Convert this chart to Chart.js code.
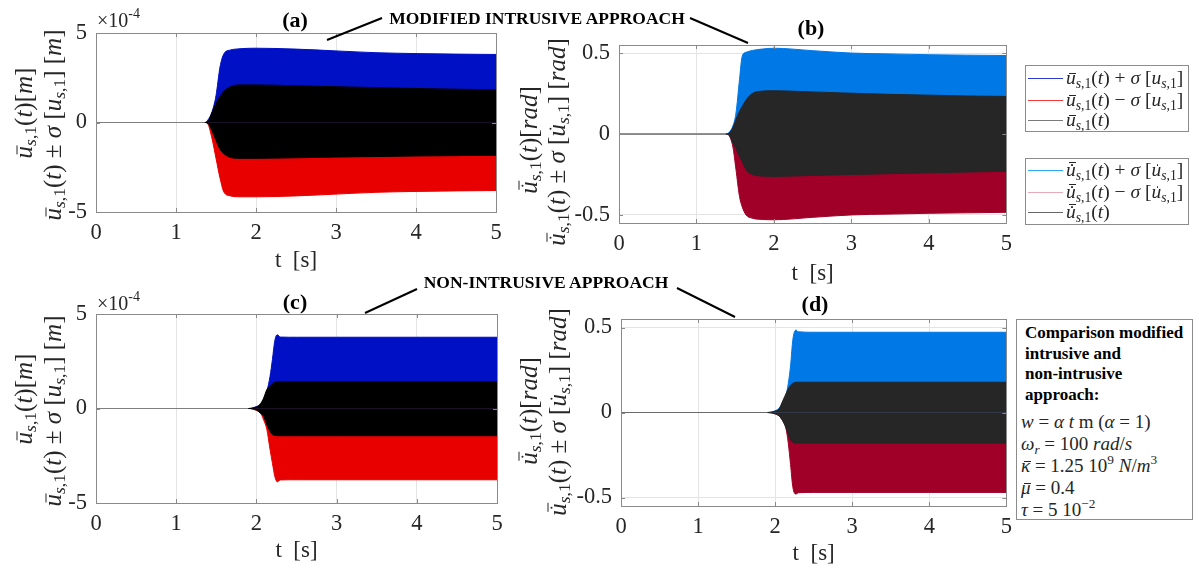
<!DOCTYPE html>
<html>
<head>
<meta charset="utf-8">
<script src="https://cdn.jsdelivr.net/npm/chart.js@4.4.1/dist/chart.umd.min.js"></script>
<style>
  html, body { margin: 0; padding: 0; background: #fff; }
  #fig { position: relative; width: 1199px; height: 569px; overflow: hidden;
         font-family: 'Liberation Serif', 'Times New Roman', serif; color: #262626; }
  canvas { position: absolute; }
  svg { position: absolute; left: 0; top: 0; }
  .t { position: absolute; white-space: nowrap; }
  .ylab { position: absolute; white-space: nowrap; font-size: 25px; line-height: 25px;
          transform: translate(-50%, -50%) rotate(-90deg); }
  sub { font-size: 70%; line-height: 0; vertical-align: -0.28em; }
  sup { font-size: 70%; line-height: 0; vertical-align: 0.6em; }
  /* accents drawn over italic letters */
  .acc { position: relative; display: inline-block; line-height: 1; }
  .acc.bar::after { content: ''; position: absolute; left: 0.14em; right: -0.02em; top: 0.25em;
                    border-top: 0.06em solid currentColor; }
  .acc.dot::before { content: ''; position: absolute; left: 0.27em; top: 0.23em; width: 0.09em; height: 0.09em;
                     border-radius: 50%; background: currentColor; }
  .acc.dbar::after { content: ''; position: absolute; left: 0.14em; right: -0.02em; top: 0.1em;
                     border-top: 0.06em solid currentColor; }
  .ptitle { font-weight: bold; font-size: 22px; color: #000; transform: translate(-50%, -50%); }
  .note { font-weight: bold; font-size: 17.5px; color: #000; transform: translate(-50%, -50%); }
  .box { position: absolute; border: 1px solid #8c8c8c; background: #fff; box-sizing: border-box; }
  .lgline { position: absolute; width: 35px; height: 0; }
  .lg { font-size: 19.5px; transform: translateY(-50%); color: #262626; }
  .exp { font-size: 20px; transform: translateY(-50%); }
  .params { position: absolute; left: 1016px; top: 319px; width: 177px; height: 201px;
            border: 1px solid #8c8c8c; box-sizing: border-box; background: #fff;
            padding: 3px 0 0 8px; color: #000; }
  .params .b { font-weight: bold; font-size: 17px; line-height: 20.5px; }
  .params .m { font-size: 19px; line-height: 22px; margin-left: -4px; color: #262626; }
  .params .gap { height: 6px; }
</style>
</head>
<body>
<div id="fig">
  <canvas id="pa"></canvas>
  <canvas id="pb"></canvas>
  <canvas id="pc"></canvas>
  <canvas id="pd"></canvas>

  <!-- axis labels: displacement -->
  <div class="ylab" style="left:23px;top:113px"><span class="acc bar"><i>u</i></span><sub><i>s</i>,1</sub>(<i>t</i>)[<i>m</i>]</div>
  <div class="ylab" style="left:52px;top:125px"><span class="acc bar"><i>u</i></span><sub><i>s</i>,1</sub>(<i>t</i>) ± <i>σ</i> [<i>u</i><sub><i>s</i>,1</sub>] [<i>m</i>]</div>
  <div class="ylab" style="left:23px;top:399px"><span class="acc bar"><i>u</i></span><sub><i>s</i>,1</sub>(<i>t</i>)[<i>m</i>]</div>
  <div class="ylab" style="left:52px;top:411px"><span class="acc bar"><i>u</i></span><sub><i>s</i>,1</sub>(<i>t</i>) ± <i>σ</i> [<i>u</i><sub><i>s</i>,1</sub>] [<i>m</i>]</div>
  <!-- axis labels: rotation -->
  <div class="ylab" style="left:528px;top:140px"><span class="acc dot dbar"><i>u</i></span><sub><i>s</i>,1</sub>(<i>t</i>)[<i>rad</i>]</div>
  <div class="ylab" style="left:556px;top:142px"><span class="acc dot dbar"><i>u</i></span><sub><i>s</i>,1</sub>(<i>t</i>) ± <i>σ</i> [<span class="acc dot"><i>u</i></span><sub><i>s</i>,1</sub>] [<i>rad</i>]</div>
  <div class="ylab" style="left:528px;top:411px"><span class="acc dot dbar"><i>u</i></span><sub><i>s</i>,1</sub>(<i>t</i>)[<i>rad</i>]</div>
  <div class="ylab" style="left:557px;top:412px"><span class="acc dot dbar"><i>u</i></span><sub><i>s</i>,1</sub>(<i>t</i>) ± <i>σ</i> [<span class="acc dot"><i>u</i></span><sub><i>s</i>,1</sub>] [<i>rad</i>]</div>

  <!-- exponent markers -->
  <div class="t exp" style="left:97px;top:20px">×10<sup>-4</sup></div>
  <div class="t exp" style="left:97px;top:303px">×10<sup>-4</sup></div>

  <!-- panel titles -->
  <div class="t ptitle" style="left:295px;top:20px">(a)</div>
  <div class="t ptitle" style="left:811px;top:28px">(b)</div>
  <div class="t ptitle" style="left:295px;top:302px">(c)</div>
  <div class="t ptitle" style="left:815px;top:304px">(d)</div>

  <!-- approach callouts -->
  <svg width="1199" height="569">
    <g stroke="#000" stroke-width="2" fill="none">
      <line x1="382" y1="18" x2="327" y2="40"/>
      <line x1="690" y1="18" x2="748" y2="43"/>
      <line x1="417" y1="289" x2="365" y2="313"/>
      <line x1="677" y1="288" x2="735" y2="317"/>
    </g>
  </svg>
  <div class="t note" style="left:537px;top:18px">MODIFIED INTRUSIVE APPROACH</div>
  <div class="t note" style="left:546px;top:282px">NON-INTRUSIVE APPROACH</div>

  <!-- legend: displacement -->
  <div class="box" style="left:1025px;top:65px;width:164px;height:67px"></div>
  <div class="lgline" style="left:1028px;top:78px;border-top:1px solid #2a3bd6"></div>
  <div class="lgline" style="left:1028px;top:100px;border-top:1px solid #f03c3c"></div>
  <div class="lgline" style="left:1028px;top:120px;border-top:1px solid #7a7a7a"></div>
  <div class="t lg" style="left:1066px;top:78px"><span class="acc bar"><i>u</i></span><sub><i>s</i>,1</sub>(<i>t</i>) + <i>σ</i> [<i>u</i><sub><i>s</i>,1</sub>]</div>
  <div class="t lg" style="left:1066px;top:100px"><span class="acc bar"><i>u</i></span><sub><i>s</i>,1</sub>(<i>t</i>) − <i>σ</i> [<i>u</i><sub><i>s</i>,1</sub>]</div>
  <div class="t lg" style="left:1066px;top:120px"><span class="acc bar"><i>u</i></span><sub><i>s</i>,1</sub>(<i>t</i>)</div>

  <!-- legend: rotation -->
  <div class="box" style="left:1025px;top:158px;width:164px;height:67px"></div>
  <div class="lgline" style="left:1028px;top:170px;border-top:1px solid #2ea8ff"></div>
  <div class="lgline" style="left:1028px;top:192px;border-top:1px solid #e8aab8"></div>
  <div class="lgline" style="left:1028px;top:212px;border-top:1px solid #666"></div>
  <div class="t lg" style="left:1066px;top:170px"><span class="acc dot dbar"><i>u</i></span><sub><i>s</i>,1</sub>(<i>t</i>) + <i>σ</i> [<span class="acc dot"><i>u</i></span><sub><i>s</i>,1</sub>]</div>
  <div class="t lg" style="left:1066px;top:192px"><span class="acc dot dbar"><i>u</i></span><sub><i>s</i>,1</sub>(<i>t</i>) − <i>σ</i> [<span class="acc dot"><i>u</i></span><sub><i>s</i>,1</sub>]</div>
  <div class="t lg" style="left:1066px;top:212px"><span class="acc dot dbar"><i>u</i></span><sub><i>s</i>,1</sub>(<i>t</i>)</div>

  <!-- simulation parameters -->
  <div class="params">
    <div class="b">Comparison modified</div>
    <div class="b">intrusive and</div>
    <div class="b">non-intrusive</div>
    <div class="b">approach:</div>
    <div class="gap"></div>
    <div class="m"><i>w</i> = <i>α</i> <i>t</i> m (<i>α</i> = 1)</div>
    <div class="m"><i>ω</i><sub><i>r</i></sub> = 100 <i>rad</i>/<i>s</i></div>
    <div class="m"><span class="acc bar"><i>κ</i></span> = 1.25 10<sup>9</sup> <i>N</i>/<i>m</i><sup>3</sup></div>
    <div class="m"><span class="acc bar"><i>μ</i></span> = 0.4</div>
    <div class="m"><i>τ</i> = 5 10<sup>−2</sup></div>
  </div>
</div>

<script>
// ---- time axis / tick definitions ----
const xTicks = [0, 1, 2, 3, 4, 5];
const yTicksDisp = [-5, 0, 5];
const yTickLabelsDisp = ['-5', '0', '5'];
const yTicksRot = [-0.5, 0, 0.5];
const yTickLabelsRot = ['-0.5', '0', '0.5'];

// ---- (a) modified intrusive, displacement envelopes [x1e-4 m] ----
const tA = [0, 1.36, 1.40, 1.45, 1.50, 1.55, 1.60, 1.68, 1.80, 2.00, 2.50, 3.00, 3.50, 4.00, 4.50, 5.00];
const aPlusSigma  = [0, 0, 0.15, 0.6, 1.5, 3.1, 3.85, 4.05, 4.12, 4.15, 4.10, 4.00, 3.90, 3.85, 3.82, 3.80];
const aMeanUpper  = [0, 0, 0.05, 0.55, 1.05, 1.45, 1.75, 2.00, 2.10, 2.10, 2.05, 2.00, 1.95, 1.90, 1.86, 1.83];
const aMeanLower  = [0, 0, -0.05, -0.45, -1.00, -1.50, -1.75, -1.95, -2.00, -2.00, -1.97, -1.93, -1.90, -1.87, -1.85, -1.83];
const aMinusSigma = [0, 0, -0.10, -0.90, -2.00, -3.10, -3.90, -4.10, -4.15, -4.15, -4.10, -4.00, -3.90, -3.85, -3.82, -3.80];

// ---- (b) modified intrusive, rotation envelopes [rad] ----
const tB = [0, 1.38, 1.42, 1.47, 1.51, 1.555, 1.59, 1.64, 1.72, 1.85, 2.00, 2.50, 3.00, 3.50, 4.00, 4.50, 5.00];
const bPlusSigma  = [0, 0, 0.01, 0.05, 0.13, 0.335, 0.48, 0.505, 0.516, 0.525, 0.53, 0.515, 0.50, 0.495, 0.49, 0.487, 0.485];
const bMeanUpper  = [0, 0, 0.005, 0.04, 0.09, 0.14, 0.17, 0.21, 0.25, 0.265, 0.267, 0.26, 0.252, 0.245, 0.24, 0.235, 0.232];
const bMeanLower  = [0, 0, -0.005, -0.056, -0.09, -0.138, -0.17, -0.22, -0.25, -0.26, -0.262, -0.256, -0.25, -0.245, -0.24, -0.235, -0.23];
const bMinusSigma = [0, 0, -0.01, -0.08, -0.22, -0.385, -0.45, -0.50, -0.52, -0.528, -0.53, -0.515, -0.50, -0.495, -0.49, -0.487, -0.484];

// ---- (c) non-intrusive, displacement envelopes [x1e-4 m] ----
const tC = [0, 1.90, 2.00, 2.05, 2.09, 2.13, 2.17, 2.20, 2.23, 2.26, 2.30, 2.50, 3.00, 4.00, 5.00];
const cPlusSigma  = [0, 0, 0.10, 0.21, 0.45, 0.90, 1.70, 2.60, 3.60, 3.90, 3.78, 3.77, 3.77, 3.77, 3.77];
const cMeanUpper  = [0, 0, 0.08, 0.25, 0.55, 1.00, 1.20, 1.32, 1.38, 1.42, 1.43, 1.42, 1.42, 1.42, 1.42];
const cMeanLower  = [0, 0, -0.08, -0.25, -0.40, -0.85, -1.20, -1.38, -1.42, -1.44, -1.44, -1.44, -1.44, -1.44, -1.44];
const cMinusSigma = [0, 0, -0.10, -0.23, -0.60, -1.10, -2.16, -2.90, -3.60, -3.88, -3.78, -3.77, -3.77, -3.77, -3.77];

// ---- (d) non-intrusive, rotation envelopes [rad] ----
const tD = [0, 1.90, 2.00, 2.05, 2.10, 2.14, 2.17, 2.20, 2.23, 2.27, 2.30, 2.50, 3.00, 4.00, 5.00];
const dPlusSigma  = [0, 0, 0.01, 0.025, 0.06, 0.10, 0.17, 0.275, 0.43, 0.485, 0.475, 0.472, 0.472, 0.472, 0.472];
const dMeanUpper  = [0, 0, 0.008, 0.02, 0.07, 0.11, 0.14, 0.16, 0.172, 0.178, 0.178, 0.178, 0.178, 0.178, 0.178];
const dMeanLower  = [0, 0, -0.008, -0.02, -0.05, -0.09, -0.13, -0.16, -0.175, -0.18, -0.18, -0.18, -0.18, -0.18, -0.18];
const dMinusSigma = [0, 0, -0.008, -0.02, -0.05, -0.093, -0.18, -0.306, -0.44, -0.48, -0.472, -0.47, -0.47, -0.47, -0.47];

// colour sets for the two quantities
const dispColors = { plus: '#0010c4', minus: '#e80000', mean: '#000000', zero: '#7f7f7f' };
const rotColors  = { plus: '#0078e6', minus: '#a00028', mean: '#262626', zero: '#6a6a6a' };

Chart.defaults.font.family = "'Liberation Serif', 'Times New Roman', serif";
Chart.defaults.color = '#262626';

// axes box with inward tick marks
const axesBox = {
  id: 'axesBox',
  afterDatasetsDraw(chart) {
    const { ctx, chartArea: a, scales } = chart;
    ctx.save();
    ctx.strokeStyle = '#8a8a8a';
    ctx.lineWidth = 1;
    ctx.beginPath();
    scales.x.ticks.forEach(tk => {
      const px = Math.round(scales.x.getPixelForValue(tk.value)) + 0.5;
      ctx.moveTo(px, a.bottom); ctx.lineTo(px, a.bottom - 4);
      ctx.moveTo(px, a.top); ctx.lineTo(px, a.top + 4);
    });
    scales.y.ticks.forEach(tk => {
      const py = Math.round(scales.y.getPixelForValue(tk.value)) + 0.5;
      ctx.moveTo(a.left, py); ctx.lineTo(a.left + 4, py);
      ctx.moveTo(a.right, py); ctx.lineTo(a.right - 4, py);
    });
    ctx.stroke();
    ctx.strokeRect(Math.round(a.left) + 0.5, Math.round(a.top) + 0.5,
                   Math.round(a.right - a.left), Math.round(a.bottom - a.top));
    ctx.restore();
  }
};

function band(label, t, vals, color, zeroColor, order) {
  return {
    label,
    data: t.map((x, i) => ({ x, y: vals[i] })),
    borderColor: color,
    backgroundColor: color,
    borderWidth: 1,
    fill: 'origin',
    pointRadius: 0,
    cubicInterpolationMode: 'monotone',
    order,
    segment: {
      borderColor: c => (c.p0.parsed.y === 0 && c.p1.parsed.y === 0) ? zeroColor : color
    }
  };
}

function makePanel(p) {
  const cv = document.getElementById(p.id);
  cv.width = p.w; cv.height = p.h;
  cv.style.left = p.left + 'px'; cv.style.top = p.top + 'px';
  cv.style.width = p.w + 'px'; cv.style.height = p.h + 'px';
  const c = p.colors;
  return new Chart(cv, {
    type: 'line',
    data: {
      datasets: [
        band('mean upper', p.t, p.meanUpper, c.mean, c.zero, 0),
        band('mean lower', p.t, p.meanLower, c.mean, c.zero, 0),
        band('mean + sigma', p.t, p.plus, c.plus, 'rgba(0,0,0,0)', 1),
        band('mean - sigma', p.t, p.minus, c.minus, 'rgba(0,0,0,0)', 1)
      ]
    },
    options: {
      responsive: false,
      animation: false,
      devicePixelRatio: 1,
      events: [],
      layout: { padding: { left: 0, top: p.area.t - p.top, right: p.left + p.w - p.area.r, bottom: 0 } },
      plugins: { legend: { display: false }, tooltip: { enabled: false } },
      scales: {
        x: {
          type: 'linear', min: 0, max: 5,
          afterBuildTicks: s => { s.ticks = xTicks.map(v => ({ value: v })); },
          afterFit: s => { s.height = p.top + p.h - p.area.b; },
          grid: { color: '#e4e4e4', drawTicks: false },
          border: { display: false },
          ticks: { padding: 8, autoSkip: false, maxRotation: 0, font: { size: 22.5 }, color: '#262626',
                   callback: v => String(v) },
          title: { display: true, text: 't  [s]', font: { size: 23 }, color: '#262626',
                   padding: { top: 0, bottom: p.xTitlePad } }
        },
        y: {
          min: p.yMin, max: p.yMax,
          afterBuildTicks: s => { s.ticks = p.yTicks.map(v => ({ value: v })); },
          afterFit: s => { s.width = p.area.l - p.left; },
          grid: { color: '#e4e4e4', drawTicks: false },
          border: { display: false },
          ticks: { padding: 9, font: { size: 22.5 }, color: '#262626',
                   callback: (v, i) => p.yLabels[i] }
        }
      }
    },
    plugins: [axesBox]
  });
}

makePanel({ id: 'pa', left: 0, top: 0, w: 520, h: 285, area: { l: 96, t: 33, r: 496, b: 212 },
  t: tA, plus: aPlusSigma, meanUpper: aMeanUpper, meanLower: aMeanLower, minus: aMinusSigma,
  colors: dispColors, yMin: -5, yMax: 5, yTicks: yTicksDisp, yLabels: yTickLabelsDisp, xTitlePad: 10 });

makePanel({ id: 'pb', left: 520, top: 0, w: 500, h: 295, area: { l: 619, t: 45, r: 1008, b: 223 },
  t: tB, plus: bPlusSigma, meanUpper: bMeanUpper, meanLower: bMeanLower, minus: bMinusSigma,
  colors: rotColors, yMin: -0.55, yMax: 0.55, yTicks: yTicksRot, yLabels: yTickLabelsRot, xTitlePad: 7 });

makePanel({ id: 'pc', left: 0, top: 285, w: 520, h: 284, area: { l: 96, t: 314, r: 497, b: 503 },
  t: tC, plus: cPlusSigma, meanUpper: cMeanUpper, meanLower: cMeanLower, minus: cMinusSigma,
  colors: dispColors, yMin: -5, yMax: 5, yTicks: yTicksDisp, yLabels: yTickLabelsDisp, xTitlePad: 4 });

makePanel({ id: 'pd', left: 520, top: 285, w: 500, h: 284, area: { l: 621, t: 319, r: 1008, b: 506 },
  t: tD, plus: dPlusSigma, meanUpper: dMeanUpper, meanLower: dMeanLower, minus: dMinusSigma,
  colors: rotColors, yMin: -0.55, yMax: 0.55, yTicks: yTicksRot, yLabels: yTickLabelsRot, xTitlePad: 1 });
</script>
</body>
</html>
